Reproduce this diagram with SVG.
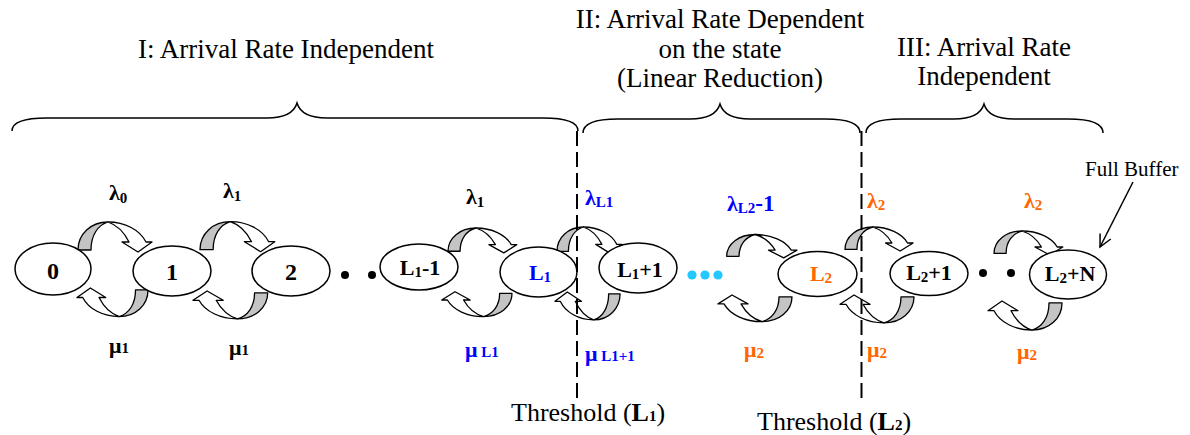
<svg xmlns="http://www.w3.org/2000/svg" width="1190" height="435" viewBox="0 0 1190 435">
  <style>
    text { font-family: "Liberation Serif", "Times New Roman", serif; }
    .title { font-size: 27px; fill: #000; text-anchor: middle; }
    .node ellipse { fill: #fff; stroke: #000; stroke-width: 1.5; }
    .nlab { font-weight: bold; font-size: 22px; text-anchor: middle; fill: #000; }
    .digit { font-size: 24px; }
    .sub { font-size: 15px; }
    .rate { font-weight: bold; font-size: 22px; fill: #000; }
    .blue { fill: #0000ff; }
    .orange { fill: #ff6600; }
    .brace { fill: none; stroke: #000; stroke-width: 1.5; }
    .thr { stroke: #000; stroke-width: 2; stroke-dasharray: 15 6; }
    .thrlab { font-size: 26px; fill: #000; }
    .back { fill: #c4c4c4; stroke: #000; stroke-width: 1.3; stroke-linejoin: round; vector-effect: non-scaling-stroke; }
    .front { fill: #fff; stroke: #000; stroke-width: 1.3; stroke-linejoin: round; vector-effect: non-scaling-stroke; }
    .dot { fill: #000; }
    .cdot { fill: #22c8ff; }
    .pointer { fill: none; stroke: #000; stroke-width: 1.5; }
  </style>
  <defs>
    <!-- curved transition arrow: shaded back band rising into a white front band with head -->
    <g id="loop">
      <path class="back" d="M0,28 C0,12 13,0 30,0 C20,3 13,13 13,28 Z"/>
      <path class="front" d="M30,0 C47,0 62,8 68,20 L74,20 L60,30 L44,20 L51,20 C46,10 39,3 30,0 Z"/>
    </g>
    <marker id="open-head" markerUnits="userSpaceOnUse" markerWidth="16" markerHeight="16" refX="13" refY="7" orient="auto">
      <path d="M1,1 L13,7 L1,13" fill="none" stroke="#000" stroke-width="1.5"/>
    </marker>
  </defs>

  <!-- region titles -->
  <text class="title" x="286" y="58">I: Arrival Rate Independent</text>
  <text class="title" x="720" y="28">II: Arrival Rate Dependent</text>
  <text class="title" x="720" y="58">on the state</text>
  <text class="title" x="720" y="87">(Linear Reduction)</text>
  <text class="title" x="984" y="56">III: Arrival Rate</text>
  <text class="title" x="984" y="85">Independent</text>

  <!-- region braces -->
  <path class="brace" d="M12,131 C12,122 24,118 47,118 L267,118 C285,118 294,113 297,103 C300,113 309,118 327,118 L543,118 C566,118 578,122 578,131"/>
  <path class="brace" d="M583,133 C583,124 595,119 618,119 L690,119 C708,119 717,114 720,104 C723,114 732,119 750,119 L825,119 C848,119 860,124 860,133"/>
  <path class="brace" d="M866,133 C866,124 878,119 901,119 L954,119 C972,119 981,114 984,104 C987,114 996,119 1014,119 L1068,119 C1091,119 1103,124 1103,133"/>

  <!-- transitions -->
  <g id="connectors">
    <use href="#loop" transform="translate(78,222) scale(1,1)"/>
    <use href="#loop" transform="translate(148,316.5) scale(-0.96,-0.95)"/>
    <use href="#loop" transform="translate(200,221.7) scale(1.01,1)"/>
    <use href="#loop" transform="translate(267.7,318.9) scale(-1.01,-0.93)"/>
    <use href="#loop" transform="translate(448,228) scale(0.93,0.83)"/>
    <use href="#loop" transform="translate(512,316.6) scale(-0.95,-0.83)"/>
    <use href="#loop" transform="translate(557,227) scale(0.88,0.87)"/>
    <use href="#loop" transform="translate(620.1,319.9) scale(-0.88,-0.93)"/>
    <use href="#loop" transform="translate(726.7,234.5) scale(0.95,0.78)"/>
    <use href="#loop" transform="translate(792,321.7) scale(-1,-0.89)"/>
    <use href="#loop" transform="translate(845,227) scale(0.92,0.8)"/>
    <use href="#loop" transform="translate(914,322.9) scale(-1,-0.93)"/>
    <use href="#loop" transform="translate(994,231) scale(0.93,0.8)"/>
    <use href="#loop" transform="translate(1062,330.1) scale(-1,-0.97)"/>
    <path class="pointer" d="M1133,182 L1100,247" marker-end="url(#open-head)"/>
  </g>

  <!-- states -->
  <g id="state-0" class="node"><ellipse cx="53" cy="269" rx="38" ry="26"/><text class="nlab digit" x="53" y="279">0</text></g>
  <g id="state-1" class="node"><ellipse cx="172" cy="271" rx="39" ry="25"/><text class="nlab digit" x="172" y="280">1</text></g>
  <g id="state-2" class="node"><ellipse cx="291" cy="271" rx="39" ry="25"/><text class="nlab digit" x="291" y="280">2</text></g>
  <g id="state-L1-1" class="node"><ellipse cx="419" cy="267" rx="39" ry="23"/><text class="nlab" x="420" y="275">L<tspan class="sub" dy="2">1</tspan><tspan dy="-2">-1</tspan></text></g>
  <g id="state-L1" class="node"><ellipse cx="538.5" cy="272" rx="38.5" ry="25"/><text class="nlab blue" x="540" y="280">L<tspan class="sub" dy="2">1</tspan></text></g>
  <g id="state-L1+1" class="node"><ellipse cx="638" cy="268" rx="39" ry="25"/><text class="nlab" x="640" y="277">L<tspan class="sub" dy="2">1</tspan><tspan dy="-2">+1</tspan></text></g>
  <g id="state-L2" class="node"><ellipse cx="817.5" cy="274" rx="39.5" ry="22.5"/><text class="nlab orange" x="821" y="281">L<tspan class="sub" dy="2">2</tspan></text></g>
  <g id="state-L2+1" class="node"><ellipse cx="929" cy="273.5" rx="39" ry="22"/><text class="nlab" x="929" y="280">L<tspan class="sub" dy="2">2</tspan><tspan dy="-2">+1</tspan></text></g>
  <g id="state-L2+N" class="node"><ellipse cx="1068" cy="274.5" rx="38.5" ry="24.5"/><text class="nlab" x="1070" y="281">L<tspan class="sub" dy="2">2</tspan><tspan dy="-2">+N</tspan></text></g>

  <!-- omitted states -->
  <circle class="dot" cx="345" cy="275" r="4"/>
  <circle class="dot" cx="372" cy="275" r="4"/>
  <circle class="cdot" cx="692" cy="275" r="4.6"/>
  <circle class="cdot" cx="705" cy="275" r="4.6"/>
  <circle class="cdot" cx="718" cy="275" r="4.6"/>
  <circle class="dot" cx="983" cy="273" r="4"/>
  <circle class="dot" cx="1011" cy="273" r="4"/>

  <!-- rate labels -->
  <text class="rate" x="109" y="200">λ<tspan class="sub" dy="3">0</tspan></text>
  <text class="rate" x="223" y="198">λ<tspan class="sub" dy="3">1</tspan></text>
  <text class="rate" x="109" y="353">μ<tspan class="sub">1</tspan></text>
  <text class="rate" x="229" y="355">μ<tspan class="sub">1</tspan></text>
  <text class="rate" x="466" y="204">λ<tspan class="sub" dy="3">1</tspan></text>
  <text class="rate blue" x="465" y="357">μ<tspan class="sub"> L1</tspan></text>
  <text class="rate blue" x="585" y="205">λ<tspan class="sub" dy="2">L1</tspan></text>
  <text class="rate blue" x="585" y="361">μ<tspan class="sub"> L1+1</tspan></text>
  <text class="rate blue" x="727" y="211">λ<tspan class="sub" dy="2">L2</tspan><tspan dy="-2" font-size="23">-1</tspan></text>
  <text class="rate orange" x="744" y="357">μ<tspan class="sub" dy="1">2</tspan></text>
  <text class="rate orange" x="867" y="208">λ<tspan class="sub" dy="2">2</tspan></text>
  <text class="rate orange" x="867" y="357">μ<tspan class="sub" dy="1">2</tspan></text>
  <text class="rate orange" x="1024" y="208">λ<tspan class="sub" dy="2">2</tspan></text>
  <text class="rate orange" x="1017" y="359">μ<tspan class="sub" dy="1">2</tspan></text>

  <!-- thresholds -->
  <line class="thr" x1="577" y1="131" x2="577" y2="400"/>
  <line class="thr" x1="861.5" y1="131" x2="861.5" y2="400"/>
  <text class="thrlab" x="511" y="421">Threshold (<tspan font-weight="bold">L</tspan><tspan font-weight="bold" font-size="15">1</tspan>)</text>
  <text class="thrlab" x="757" y="430">Threshold (<tspan font-weight="bold">L</tspan><tspan font-weight="bold" font-size="15">2</tspan>)</text>

  <text x="1085" y="176" font-size="21" fill="#000">Full Buffer</text>
</svg>
